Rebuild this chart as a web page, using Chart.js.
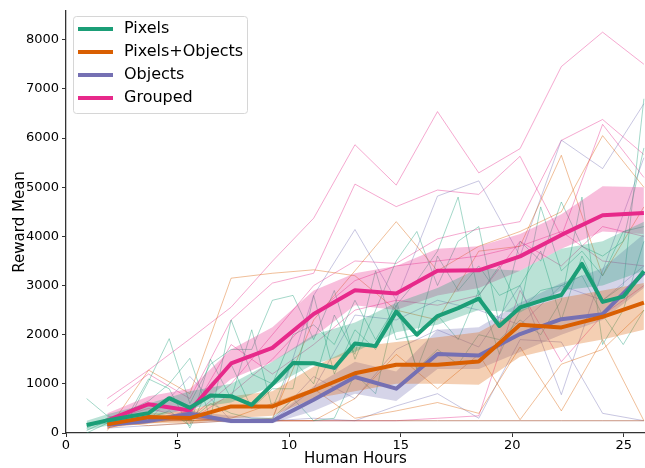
<!DOCTYPE html>
<html>
<head>
<meta charset="utf-8">
<script src="https://cdn.jsdelivr.net/npm/chart.js@4.4.1/dist/chart.umd.min.js"></script>
<style>
  body { margin: 0; background: #fff; }
</style>
</head>
<body>
<canvas id="rewardChart" width="645" height="468"></canvas>
<script>
// hours where each run was evaluated
const hoursWide = [1.85, 3.7, 5.55, 7.4, 9.25, 11.1, 12.95, 14.8, 16.65, 18.5, 20.35, 22.2, 24.05, 25.9];
const hoursPixels = [0.925, 1.85, 2.775, 3.7, 4.625, 5.55, 6.475, 7.4, 8.325, 9.25, 10.175, 11.1, 12.025, 12.95,
  13.875, 14.8, 15.725, 16.65, 17.575, 18.5, 19.425, 20.35, 21.275, 22.2, 23.125, 24.05, 24.975, 25.9];
const bandHoursPixels = [0.925, 1.85, 3.7, 5.55, 7.4, 9.25, 11.1, 12.95, 14.8, 16.65, 18.5, 20.35, 22.2, 24.05, 25.9];

// tick labels
const xTickValues = [0, 5, 10, 15, 20, 25];
const yTickValues = [0, 1000, 2000, 3000, 4000, 5000, 6000, 7000, 8000];

// mean curves
const meanPixels = [162, 256, 330, 405, 709, 514, 764, 750, 574, 990, 1426, 1420, 1324, 1819,
  1772, 2470, 2001, 2380, 2540, 2735, 2177, 2555, 2690, 2808, 3441, 2667, 2774, 3293];
const meanPixObj = [176, 324, 304, 541, 541, 865, 1216, 1387, 1387, 1455, 2202, 2148, 2364, 2653];
const meanObjects = [169, 243, 392, 243, 243, 676, 1140, 902, 1609, 1576, 2013, 2316, 2418, 3259];
const meanGrouped = [256, 586, 458, 1415, 1732, 2420, 2905, 2840, 3302, 3310, 3594, 4030, 4430, 4475];

// shaded bands
const bandPixelsHi = [250, 380, 600, 850, 1000, 1450, 2000, 2250, 2650, 2950, 3350, 3300, 3750, 3900, 4300];
const bandPixelsLo = [60, 150, 300, 500, 620, 950, 1400, 1650, 2050, 2200, 2500, 2450, 2900, 3000, 3300];
const bandPixObjHi = [250, 400, 450, 750, 850, 1350, 1750, 1850, 1950, 2050, 2500, 2750, 2900, 3050];
const bandPixObjLo = [100, 200, 200, 300, 350, 700, 850, 1000, 1000, 980, 1550, 1750, 1900, 2100];
const bandObjectsHi = [200, 300, 450, 350, 300, 950, 1450, 1250, 2100, 2150, 2650, 3050, 3350, 4050];
const bandObjectsLo = [120, 200, 300, 200, 200, 450, 800, 650, 1300, 1300, 1650, 2000, 2300, 2950];
const bandGroupedHi = [400, 750, 900, 1700, 2150, 2900, 3250, 3400, 3750, 3800, 4050, 4450, 5020, 5000];
const bandGroupedLo = [150, 450, 400, 1100, 1450, 1950, 2600, 2500, 2800, 2950, 3300, 3750, 4100, 4050];

// individual runs
const runsPixels = [
  [700, 350, 250, 1050, 1920, 600, 1400, 1700, 1700, 2700, 2800, 1900, 2900, 1500, 2500, 3500, 4100, 3000, 3900, 4200, 2200, 3900, 3500, 4700, 3800, 3600, 3900, 5800],
  [0, 200, 450, 650, 1000, 1520, 300, 2300, 1200, 1000, 2000, 2200, 1800, 2700, 1900, 2600, 3100, 3700, 4800, 2800, 3400, 2500, 4600, 3300, 3700, 3200, 4100, 4200],
  [100, 300, 200, 300, 450, 150, 1500, 700, 2100, 500, 1500, 1000, 2400, 1600, 3300, 1900, 2000, 3600, 2900, 3400, 2800, 3000, 3700, 2300, 3600, 2700, 3000, 6800],
  [150, 200, 400, 250, 300, 250, 600, 400, 300, 300, 700, 250, 300, 1200, 800, 2600, 1300, 1700, 1400, 2000, 1900, 2300, 2000, 2700, 4800, 1800, 2500, 3900],
  [50, 250, 350, 1100, 900, 100, 1000, 1400, 500, 900, 900, 2800, 1200, 2100, 1700, 2700, 1300, 2400, 1900, 2900, 1600, 2500, 2900, 3000, 3200, 2400, 1800, 2500]
];
const runsPixObj = [
  [50, 1280, 800, 3150, 3250, 3320, 3200, 2500, 2300, 3700, 3800, 5650, 3200, 4600],
  [150, 200, 300, 250, 300, 2300, 3300, 4300, 3300, 3800, 4100, 4500, 6050, 5000],
  [200, 250, 250, 250, 250, 250, 250, 250, 250, 250, 250, 250, 250, 250],
  [100, 300, 250, 300, 600, 900, 300, 450, 620, 400, 1750, 450, 1900, 250],
  [250, 150, 200, 250, 250, 250, 700, 1600, 900, 1600, 270, 1400, 1700, 2500]
];
const runsObjects = [
  [150, 250, 1150, 250, 250, 2800, 4140, 2700, 4820, 5130, 3600, 5960, 5380, 6700],
  [200, 300, 300, 250, 250, 250, 250, 250, 250, 250, 250, 250, 250, 250],
  [100, 150, 200, 250, 250, 1150, 700, 1700, 2100, 1750, 3000, 780, 3300, 5600],
  [200, 250, 450, 250, 250, 300, 250, 550, 800, 300, 1900, 1850, 400, 250],
  [200, 250, 250, 250, 250, 900, 2400, 2300, 2700, 2500, 2200, 3000, 2700, 3400]
];
const runsGrouped = [
  [700, 1280, 1913, 2560, 3495, 4370, 5865, 5044, 6539, 5293, 5785, 7455, 8155, 7502],
  [550, 1200, 700, 2300, 3050, 3250, 5064, 4606, 4943, 4855, 5630, 4000, 6279, 5200],
  [250, 500, 300, 1000, 2000, 3000, 3500, 3450, 3950, 4150, 4300, 5953, 6379, 5665],
  [150, 300, 250, 800, 1500, 2400, 3100, 3400, 3500, 3600, 3800, 4100, 3500, 3400],
  [200, 350, 300, 250, 250, 250, 250, 250, 300, 350, 2900, 1450, 2400, 3000],
  [100, 300, 350, 1800, 1200, 1800, 2500, 2700, 2600, 2800, 3900, 3400, 4200, 4000]
];

const names = ["Pixels", "Pixels+Objects", "Objects", "Grouped"];
const colors = ["27,158,119", "217,95,2", "117,112,179", "231,41,138"];

function pts(xs, ys) {
  return ys.map((y, i) => ({ x: xs[i], y: y }));
}

const groups = [
  { x: hoursPixels, bx: bandHoursPixels, mean: meanPixels, hi: bandPixelsHi, lo: bandPixelsLo, runs: runsPixels },
  { x: hoursWide, bx: hoursWide, mean: meanPixObj, hi: bandPixObjHi, lo: bandPixObjLo, runs: runsPixObj },
  { x: hoursWide, bx: hoursWide, mean: meanObjects, hi: bandObjectsHi, lo: bandObjectsLo, runs: runsObjects },
  { x: hoursWide, bx: hoursWide, mean: meanGrouped, hi: bandGroupedHi, lo: bandGroupedLo, runs: runsGrouped }
];

const datasets = [];
groups.forEach((g, i) => {
  const c = colors[i];
  // thick mean line, on top
  datasets.push({
    label: names[i], data: pts(g.x, g.mean), borderColor: `rgb(${c})`, borderWidth: 4,
    borderJoinStyle: "round", pointRadius: 0, fill: false, order: 0
  });
  // band: upper fills down to lower
  datasets.push({
    label: names[i] + " hi", data: pts(g.bx, g.hi), borderWidth: 0, borderColor: "transparent",
    backgroundColor: `rgba(${c},0.3)`, pointRadius: 0, fill: "+1", order: 1
  });
  datasets.push({
    label: names[i] + " lo", data: pts(g.bx, g.lo), borderWidth: 0, borderColor: "transparent",
    pointRadius: 0, fill: false, order: 1
  });
  g.runs.forEach((r) => {
    datasets.push({
      label: names[i] + " run", data: pts(g.x, r), borderColor: `rgba(${c},0.4)`, borderWidth: 1,
      pointRadius: 0, fill: false, order: 2
    });
  });
});

// matplotlib-like legend inside the axes
const legendBox = {
  id: "legendBox",
  afterDraw(chart) {
    const ctx = chart.ctx;
    const x0 = 73, y0 = 16, w = 174, h = 97;
    ctx.save();
    ctx.fillStyle = "rgba(255,255,255,0.8)";
    ctx.strokeStyle = "#d6d6d6";
    ctx.lineWidth = 1;
    ctx.beginPath();
    ctx.roundRect(x0 + 0.5, y0 + 0.5, w, h, 3);
    ctx.fill();
    ctx.stroke();
    ctx.font = "16px 'DejaVu Sans'";
    ctx.textBaseline = "middle";
    names.forEach((n, i) => {
      const y = 29 + i * 23;
      ctx.strokeStyle = `rgb(${colors[i]})`;
      ctx.lineWidth = 4;
      ctx.beginPath();
      ctx.moveTo(78, y);
      ctx.lineTo(113, y);
      ctx.stroke();
      ctx.fillStyle = "#000";
      ctx.fillText(n, 124, y);
    });
    ctx.restore();
  }
};

const axisColor = "#333";
const tickFont = { family: "DejaVu Sans", size: 13 };

new Chart(document.getElementById("rewardChart"), {
  type: "line",
  data: { datasets: datasets },
  options: {
    responsive: false,
    animation: false,
    layout: { padding: { top: 8, right: 0, left: 0, bottom: 0 } },
    plugins: { legend: { display: false }, tooltip: { enabled: false } },
    scales: {
      x: {
        type: "linear", min: 0, max: 25.95,
        ticks: { autoSkip: false, maxRotation: 0, color: "#000", font: tickFont, padding: 1, callback: (v) => String(v) },
        afterBuildTicks: (s) => { s.ticks = xTickValues.map((v) => ({ value: v })); },
        afterFit: (s) => { s.height = 35; },
        grid: { drawOnChartArea: false, drawTicks: true, tickLength: 4, color: axisColor },
        border: { color: axisColor, width: 1.3 },
        title: { display: true, text: "Human Hours", color: "#000", font: { family: "DejaVu Sans", size: 15 }, padding: { top: 0, bottom: 0 } }
      },
      y: {
        type: "linear", min: 0, max: 8590,
        ticks: { autoSkip: false, color: "#000", font: tickFont, padding: 3, callback: (v) => String(v) },
        afterBuildTicks: (s) => { s.ticks = yTickValues.map((v) => ({ value: v })); },
        afterFit: (s) => { s.width = 66; },
        grid: { drawOnChartArea: false, drawTicks: true, tickLength: 4, color: axisColor },
        border: { color: axisColor, width: 1.3 },
        title: { display: true, text: "Reward Mean", color: "#000", font: { family: "DejaVu Sans", size: 15 }, padding: { top: 11, bottom: 0 } }
      }
    }
  },
  plugins: [legendBox]
});
</script>
</body>
</html>
